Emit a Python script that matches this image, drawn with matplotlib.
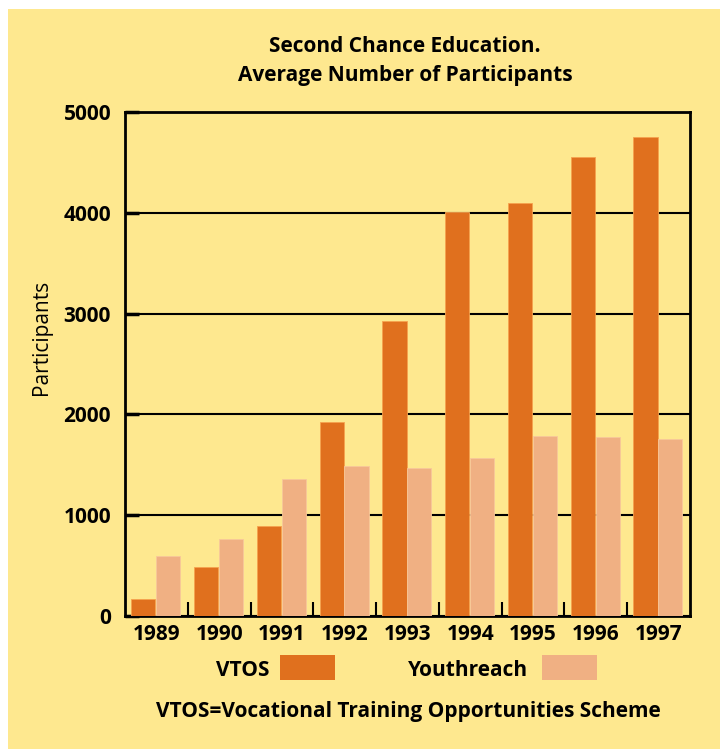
import numpy as np
import matplotlib.pyplot as plt
from matplotlib.patches import Rectangle

years = ["1989", "1990", "1991", "1992", "1993", "1994", "1995", "1996", "1997"]
vtos = [170, 490, 890, 1920, 2930, 4010, 4100, 4550, 4750]
youthreach = [600, 760, 1355, 1490, 1470, 1565, 1785, 1775, 1755]
yticks = [0, 1000, 2000, 3000, 4000, 5000]

bg = "#FEE88F"
c_vtos = "#E0701E"
c_youth = "#F0B083"
fs = 15

plt.rcParams["font.family"] = ["Open Sans", "DejaVu Sans"]

fig = plt.figure(figsize=(7.2, 7.49), dpi=100)
fig.patch.set_facecolor("white")
fig.patches.append(Rectangle((8 / 720, 0), 1, 1 - 9 / 749, transform=fig.transFigure,
                             facecolor=bg, edgecolor="none", zorder=-10))

ax = fig.add_axes([125 / 720, 1 - 616 / 749, 565 / 720, 504 / 749])
ax.set_facecolor(bg)

x = np.arange(len(years))
w = 0.385
ax.bar(x - 0.5 + 0.1, vtos, width=w, align="edge", color=c_vtos,
       edgecolor="#F6A24E", linewidth=0.6, zorder=3)
ax.bar(x - 0.5 + 0.1 + w + 0.01, youthreach, width=w, align="edge", color=c_youth,
       edgecolor="#F8C89A", linewidth=0.6, zorder=3)

ax.set_xlim(-0.5, len(years) - 0.5)
ax.set_ylim(0, 5000)
ax.set_yticks(yticks)
ax.set_yticklabels([str(v) for v in yticks], fontsize=fs, fontweight="bold")
ax.tick_params(axis="y", direction="in", length=10, width=2.5, pad=10)
ax.set_xticks(x[:-1] + 0.5)
ax.set_xticklabels([])
ax.tick_params(axis="x", direction="in", length=10, width=1.5)
for i, yr in enumerate(years):
    ax.text(i, -180, yr, ha="center", va="center", fontsize=fs, fontweight="bold")

ax.grid(axis="y", color="black", linewidth=1.5, zorder=1)
for s in ax.spines.values():
    s.set_linewidth(2)

ax.set_ylabel("Participants", fontsize=fs)
ax.yaxis.set_label_coords(-0.129, 0.553)

fig.text(405 / 720, 1 - 46 / 749, "Second Chance Education.", ha="center", va="center",
         fontsize=fs, fontweight="bold")
fig.text(405 / 720, 1 - 76 / 749, "Average Number of Participants", ha="center", va="center",
         fontsize=fs, fontweight="bold")

fig.text(270 / 720, 1 - 670 / 749, "VTOS", ha="right", va="center", fontsize=fs, fontweight="bold")
fig.patches.append(Rectangle((280 / 720, 1 - 680 / 749), 55 / 720, 25 / 749,
                             transform=fig.transFigure, facecolor=c_vtos, edgecolor="none"))
fig.text(528 / 720, 1 - 670 / 749, "Youthreach", ha="right", va="center", fontsize=fs, fontweight="bold")
fig.patches.append(Rectangle((542 / 720, 1 - 680 / 749), 55 / 720, 25 / 749,
                             transform=fig.transFigure, facecolor=c_youth, edgecolor="none"))
fig.text(408 / 720, 1 - 712 / 749, "VTOS=Vocational Training Opportunities Scheme",
         ha="center", va="center", fontsize=fs, fontweight="bold")

fig.savefig("out.png", dpi=100, facecolor=fig.get_facecolor())
